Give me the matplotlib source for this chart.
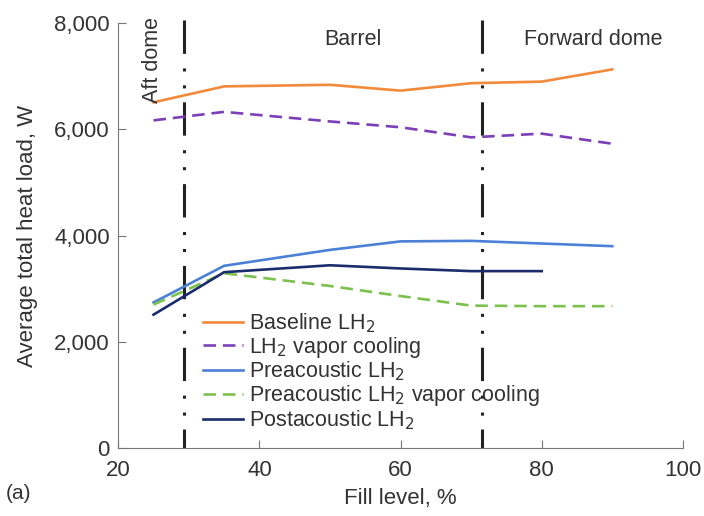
import numpy as np
import matplotlib.pyplot as plt
from matplotlib.ticker import FuncFormatter

plt.rcParams['font.family'] = ['Liberation Sans', 'DejaVu Sans']
plt.rcParams['lines.scale_dashes'] = False

# datos
fill = [25, 35, 50, 60, 70, 80, 90]
baseline = [6510, 6810, 6840, 6730, 6870, 6900, 7130]
vapor = [6170, 6330, 6150, 6040, 5850, 5920, 5730]
preac = [2740, 3430, 3730, 3890, 3900, 3850, 3800]
preac_vapor = [2700, 3290, 3050, 2860, 2680, 2670, 2670]
fill_post = [25, 35, 50, 60, 70, 80]
postac = [2510, 3310, 3440, 3380, 3330, 3330]

# limites de regiones del tanque
bounds = [29.3, 71.5]
texto = "#333333"

fig = plt.figure(figsize=(7.04, 5.16), dpi=100)
ax = fig.add_axes([0.168, 0.132, 0.802, 0.823])

ax.plot(fill, baseline, color="#F28A3C", lw=1.9, label="Baseline LH$_2$")
ax.plot(fill, vapor, color="#7B3FB8", lw=1.9, dashes=(9, 5), label="LH$_2$ vapor cooling")
ax.plot(fill, preac, color="#4B80D6", lw=1.9, label="Preacoustic LH$_2$")
ax.plot(fill, preac_vapor, color="#7CC04E", lw=1.9, dashes=(9, 5),
        label="Preacoustic LH$_2$ vapor cooling")
ax.plot(fill_post, postac, color="#1A2C6B", lw=1.9, label="Postacoustic LH$_2$")

for b in bounds:
    ax.plot([b, b], [8060, 0], color="#222222", lw=2.2,
            dashes=(24, 10.5, 2.2, 10, 2.2, 10), clip_on=False, zorder=1)

ax.set_xlim(20, 100)
ax.set_ylim(0, 8000)
ax.set_xticks([20, 40, 60, 80, 100])
ax.set_yticks([0, 2000, 4000, 6000, 8000])
ax.yaxis.set_major_formatter(FuncFormatter(lambda v, p: f"{int(v):,}"))

for s in ["top", "right"]:
    ax.spines[s].set_visible(False)
for s in ["left", "bottom"]:
    ax.spines[s].set_color("#777777")
ax.tick_params(direction="in", length=6, color="#777777", labelsize=16,
               labelcolor=texto, pad=6)
ax.tick_params(axis="x", pad=9)

ax.set_xlabel("Fill level, %", fontsize=16, color=texto, labelpad=5)
ax.set_ylabel("Average total heat load, W", fontsize=16, color=texto, labelpad=12)

ax.text(53.3, 7700, "Barrel", ha="center", va="center", fontsize=15.5, color=texto)
ax.text(87.3, 7700, "Forward dome", ha="center", va="center", fontsize=15.5, color=texto)
ax.text(24.8, 7300, "Aft dome", ha="center", va="center", rotation=90,
        fontsize=15.5, color=texto)
fig.text(0.008, 0.032, "(a)", fontsize=15, color=texto)

leg = ax.legend(loc="upper left", bbox_to_anchor=(0.135, 0.342), frameon=False,
                fontsize=15.5, handlelength=1.85, handletextpad=0.3,
                labelspacing=0.0, borderaxespad=0)
for t in leg.get_texts():
    t.set_color(texto)

plt.savefig("out.png", dpi=100)
